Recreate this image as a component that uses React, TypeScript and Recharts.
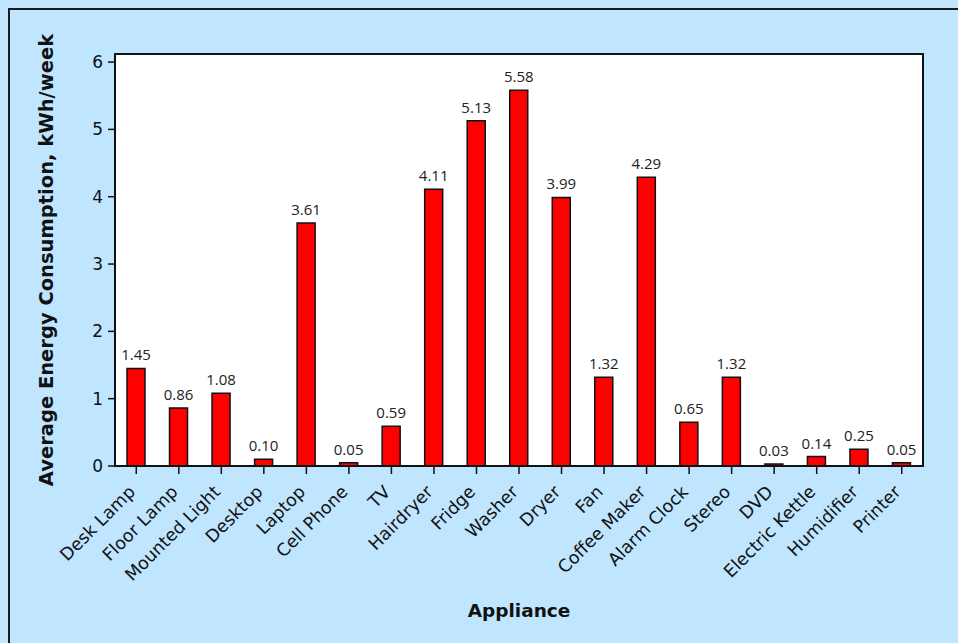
import React from 'react';
import { BarChart, Bar, XAxis, YAxis, CartesianGrid, LabelList, ReferenceArea } from 'recharts';

const appliances = ['Desk Lamp', 'Floor Lamp', 'Mounted Light', 'Desktop', 'Laptop', 'Cell Phone', 'TV', 'Hairdryer', 'Fridge', 'Washer', 'Dryer', 'Fan', 'Coffee Maker', 'Alarm Clock', 'Stereo', 'DVD', 'Electric Kettle', 'Humidifier', 'Printer'];
const consumption = [1.45, 0.86, 1.08, 0.10, 3.61, 0.05, 0.59, 4.11, 5.13, 5.58, 3.99, 1.32, 4.29, 0.65, 1.32, 0.03, 0.14, 0.25, 0.05];
const yTicks = [0, 1, 2, 3, 4, 5, 6];
const yMax = 6.12;

const data = appliances.map((name, i) => ({ name, value: consumption[i] }));

const XTick = (props: any) => {
  const { x, y, payload } = props;
  return (
    <g transform={`translate(${x},${y + 17})`}>
      <text x={0} y={0} textAnchor="end" transform="rotate(-45)" fontFamily="'DejaVu Sans', sans-serif" fontSize={17.5} fill="#111">
        {payload.value}
      </text>
    </g>
  );
};

const YTick = (props: any) => {
  const { x, y, payload } = props;
  return (
    <text x={x} y={y} dy={6} textAnchor="end" fontFamily="'DejaVu Sans', sans-serif" fontSize={17} fill="#111">
      {payload.value}
    </text>
  );
};

const ValueLabel = (props: any) => {
  const { x, y, width, value } = props;
  return (
    <text x={x + width / 2} y={y - 8} textAnchor="middle" fontFamily="'Open Sans', sans-serif" fontSize={15} fill="#222">
      {Number(value).toFixed(2)}
    </text>
  );
};

export default function App() {
  return (
    <div style={{ position: 'fixed', left: 0, top: 0, width: 958, height: 643, overflow: 'hidden', background: '#bfe5ff' }}>
      <style>{`html,body{margin:0;padding:0;overflow:hidden;background:#bfe5ff}`}</style>
      <div style={{ position: 'absolute', left: 8, top: 8, width: 950, height: 635, background: '#bfe5ff', borderTop: '2px solid #1a1a1a', borderLeft: '2px solid #1a1a1a', boxSizing: 'border-box' }}>
        <BarChart width={948} height={633} data={data} margin={{ top: 44, right: 35, left: 0, bottom: 0 }} barCategoryGap={0}>
          <CartesianGrid fill="#ffffff" horizontal={false} vertical={false} />
          <XAxis dataKey="name" interval={0} height={177} tick={<XTick />} tickSize={8} axisLine={{ stroke: '#111', strokeWidth: 2 }} tickLine={{ stroke: '#111', strokeWidth: 1.5 }} padding={{ left: 0, right: 0 }}
            label={{ value: 'Appliance', position: 'insideBottom', offset: 26, style: { fontFamily: "'DejaVu Sans', sans-serif", fontWeight: 'bold', fontSize: 18.5, fill: '#111' } }} />
          <YAxis domain={[0, yMax]} ticks={yTicks} width={105} tick={<YTick />} tickSize={7} tickMargin={5} axisLine={{ stroke: '#111', strokeWidth: 2 }} tickLine={{ stroke: '#111', strokeWidth: 1.5 }} allowDataOverflow
            label={{ value: 'Average Energy Consumption, kWh/week', angle: -90, position: 'insideLeft', offset: 36, style: { textAnchor: 'middle', fontFamily: "'DejaVu Sans', sans-serif", fontWeight: 'bold', fontSize: 19.5, fill: '#111' } }} />
          <ReferenceArea x1={appliances[0]} x2={appliances[appliances.length - 1]} y1={0} y2={yMax} fill="none" fillOpacity={0} stroke="#111" strokeWidth={2} ifOverflow="visible" />
          <Bar dataKey="value" fill="#ff0000" stroke="#111" strokeWidth={1.5} barSize={18} isAnimationActive={false}>
            <LabelList dataKey="value" content={<ValueLabel />} />
          </Bar>
        </BarChart>
      </div>
    </div>
  );
}
